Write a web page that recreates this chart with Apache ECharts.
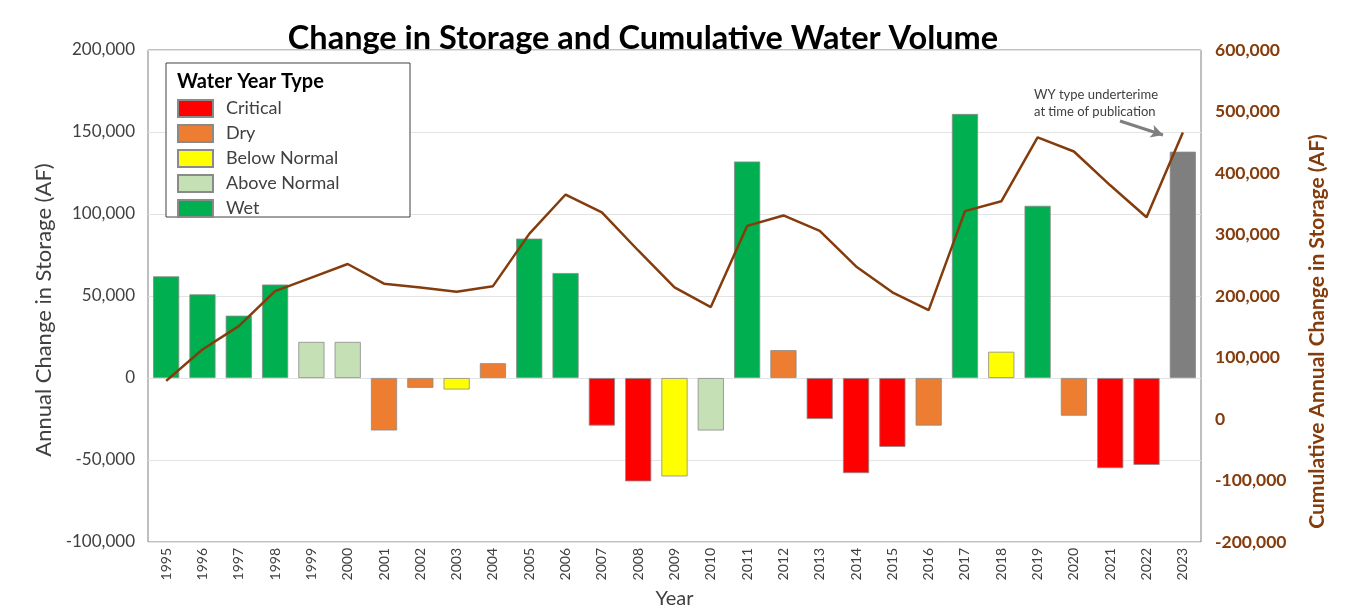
<!DOCTYPE html>
<html>
<head>
<meta charset="utf-8">
<script src="https://cdn.jsdelivr.net/npm/echarts@6/dist/echarts.min.js"></script>
<style>
  html, body { margin: 0; padding: 0; background: #fff; }
  #main { width: 1358px; height: 608px; }
</style>
</head>
<body>
<div id="main"></div>
<script>
// 年份
const years = ['1995', '1996', '1997', '1998', '1999', '2000', '2001', '2002', '2003', '2004',
  '2005', '2006', '2007', '2008', '2009', '2010', '2011', '2012', '2013', '2014',
  '2015', '2016', '2017', '2018', '2019', '2020', '2021', '2022', '2023']
// 水年类型
const yearType = ['Wet', 'Wet', 'Wet', 'Wet', 'Above Normal', 'Above Normal', 'Dry', 'Dry', 'Below Normal', 'Dry',
  'Wet', 'Wet', 'Critical', 'Critical', 'Below Normal', 'Above Normal', 'Wet', 'Dry', 'Critical', 'Critical',
  'Critical', 'Dry', 'Wet', 'Below Normal', 'Wet', 'Dry', 'Critical', 'Critical', 'Undetermined']
// 年储量变化 (AF)
const annualChange = [62000, 51000, 38000, 57000, 22000, 22000, -32000, -6000, -7000, 9000,
  85000, 64000, -29000, -63000, -60000, -32000, 132000, 17000, -25000, -58000,
  -42000, -29000, 161000, 16000, 105000, -23000, -55000, -53000, 138000]
// 累计变化 (AF)
const cumulative = [62000, 113000, 151000, 208000, 230000, 252000, 220000, 214000, 207000, 216000,
  301000, 365000, 336000, 274000, 214000, 182000, 314000, 331000, 306000, 248000,
  206000, 177000, 338000, 354000, 458000, 435000, 380000, 328000, 466000]
const typeNames = ['Critical', 'Dry', 'Below Normal', 'Above Normal', 'Wet']
const typeColors = ['#FF0000', '#ED7D31', '#FFFF00', '#C5E0B4', '#00B050']
const leftTicks = [-100000, 200000, 50000]   // min, max, interval
const rightTicks = [-200000, 600000, 100000]

const fmt = v => v.toLocaleString('en-US')
const FONT = 'Lato'

var myChart = echarts.init(document.getElementById('main'))

let series = typeNames.map((t, k) => ({
  name: t,
  type: 'bar',
  stack: 'wy',
  barWidth: '72%',
  itemStyle: { color: typeColors[k], borderColor: '#8a8a8a', borderWidth: 0.8 },
  data: years.map((y, i) => yearType[i] === t ? annualChange[i] : '-'),
  animation: false
}))
series.push({
  name: 'Undetermined',
  type: 'bar',
  stack: 'wy',
  barWidth: '72%',
  itemStyle: { color: '#7F7F7F', borderColor: '#8a8a8a', borderWidth: 0.8 },
  data: years.map((y, i) => yearType[i] === 'Undetermined' ? annualChange[i] : '-'),
  animation: false
})
series.push({
  name: 'Cumulative',
  type: 'line',
  yAxisIndex: 1,
  symbol: 'none',
  lineStyle: { color: '#843C0C', width: 2.5 },
  data: cumulative,
  z: 5,
  animation: false,
  // 注释箭头
  markLine: {
    silent: true,
    animation: false,
    symbol: ['none', 'arrow'],
    symbolSize: [10, 12],
    label: { show: false },
    lineStyle: { color: '#7F7F7F', width: 3, type: 'solid' },
    data: [[{ x: 1120, y: 121 }, { x: 1163, y: 135 }]]
  }
})

let option = {
  animation: false,
  textStyle: { fontFamily: FONT },
  title: {
    text: 'Change in Storage and Cumulative Water Volume',
    left: 638, top: 17, textAlign: 'center',
    textStyle: { fontFamily: FONT, fontSize: 32.5, fontWeight: 'bold', color: '#000' }
  },
  grid: {
    left: 148, right: 157, top: 50, bottom: 66,
    containLabel: false, outerBoundsMode: 'none',
    show: true, borderColor: '#808080', borderWidth: 1
  },
  legend: {
    data: typeNames,
    orient: 'vertical',
    left: 177, top: 99,
    padding: 0,
    itemWidth: 35, itemHeight: 17, itemGap: 6,
    icon: 'rect',
    selectedMode: false,
    z: 6,
    textStyle: { fontFamily: FONT, fontSize: 18, lineHeight: 17, color: '#404040', padding: [0, 0, 0, 8] }
  },
  xAxis: {
    type: 'category',
    data: years,
    name: 'Year',
    nameLocation: 'middle',
    nameGap: 44,
    nameTextStyle: { fontFamily: FONT, fontSize: 20, color: '#404040' },
    axisTick: { show: false },
    axisLine: { show: false },
    axisLabel: { rotate: 90, margin: 6, fontSize: 14, color: '#404040', fontFamily: FONT }
  },
  yAxis: [{
    type: 'value',
    min: leftTicks[0], max: leftTicks[1], interval: leftTicks[2],
    name: 'Annual Change in Storage (AF)',
    nameLocation: 'middle',
    nameGap: 78,
    nameTextStyle: { fontFamily: FONT, fontSize: 22, color: '#404040', padding: [0, 28, 0, 0] },
    axisLine: { show: false },
    axisTick: { show: false },
    splitLine: { lineStyle: { color: '#e3e3e3', width: 1 } },
    axisLabel: { formatter: fmt, fontSize: 17, color: '#404040', margin: 13, fontFamily: FONT }
  }, {
    type: 'value',
    position: 'right',
    min: rightTicks[0], max: rightTicks[1], interval: rightTicks[2],
    name: 'Cumulative Annual Change in Storage (AF)',
    nameLocation: 'middle',
    nameGap: 106,
    nameTextStyle: { fontFamily: FONT, fontSize: 21, fontWeight: 'bold', color: '#843C0C', padding: [0, 71, 0, 0] },
    axisLine: { show: false },
    axisTick: { show: false },
    splitLine: { show: false },
    axisLabel: { formatter: fmt, fontSize: 17.5, fontWeight: 'bold', color: '#843C0C', margin: 14, fontFamily: FONT }
  }],
  graphic: [
    {
      type: 'rect', z: 4,
      shape: { x: 166, y: 63, width: 244, height: 154 },
      style: { fill: '#fff', stroke: '#404040', lineWidth: 1 }
    },
    {
      type: 'text', z: 7, left: 177, top: 72,
      style: { text: 'Water Year Type', font: 'bold 20px ' + FONT, fill: '#000' }
    },
    {
      type: 'text', z: 7, left: 1034, top: 86,
      style: { text: 'WY type underterime\nat time of publication', font: '13px ' + FONT, fill: '#404040', lineHeight: 17 }
    }
  ],
  series: series
}
myChart.setOption(option)
</script>
</body>
</html>
